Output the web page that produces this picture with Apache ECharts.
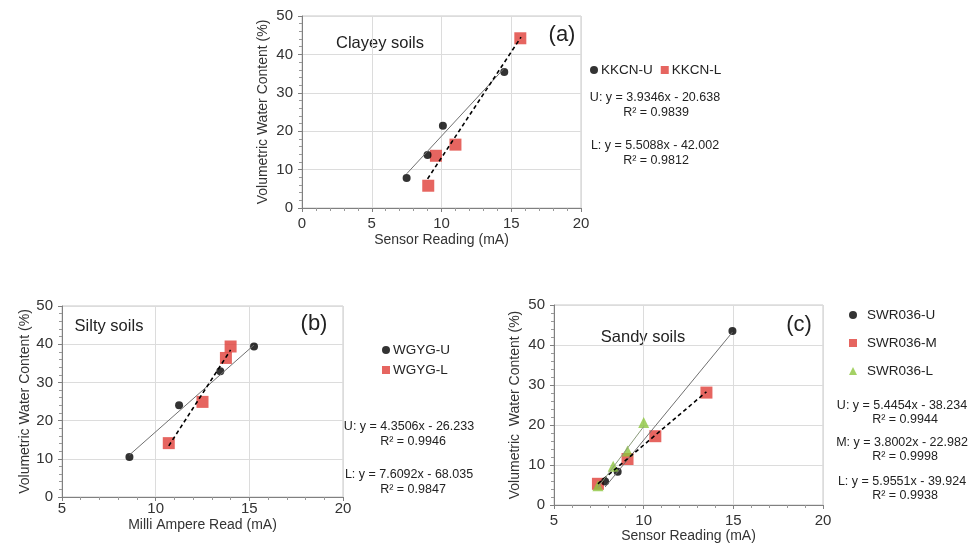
<!DOCTYPE html>
<html>
<head>
<meta charset="utf-8">
<script src="https://cdn.jsdelivr.net/npm/echarts@6/dist/echarts.min.js"></script>
<style>
  html, body { margin: 0; padding: 0; background: #fff; }
  #chart { width: 979px; height: 544px; }
</style>
</head>
<body>
<div id="chart"></div>
<script>
// panel (a) clayey soils
const aUx = [7.5, 9.0, 10.1, 14.5];
const aUy = [7.8, 13.8, 21.4, 35.4];
const aLx = [9.05, 9.6, 11.0, 15.65];
const aLy = [5.8, 13.6, 16.5, 44.2];
const aTrendU = [[7.5, 8.9], [14.5, 36.4]];
const aTrendL = [[9.0, 7.6], [15.7, 44.5]];
const aEq = ['U: y = 3.9346x - 20.638', 'R² = 0.9839', 'L: y = 5.5088x - 42.002', 'R² = 0.9812'];

// panel (b) silty soils
const bUx = [8.6, 11.25, 13.45, 15.25];
const bUy = [10.5, 24.0, 32.9, 39.4];
const bLx = [10.7, 12.5, 13.75, 14.0];
const bLy = [14.1, 24.9, 36.4, 39.4];
const bTrendU = [[8.6, 11.0], [15.25, 39.8]];
const bTrendL = [[10.7, 13.4], [14.0, 38.5]];
const bEq = ['U: y = 4.3506x - 26.233', 'R² = 0.9946', 'L: y = 7.6092x - 68.035', 'R² = 0.9847'];

// panel (c) sandy soils
const cUx = [7.85, 8.55, 14.95];
const cUy = [5.9, 8.3, 43.5];
const cMx = [7.45, 9.1, 10.65, 13.5];
const cMy = [5.3, 11.5, 17.2, 28.1];
const cLx = [7.45, 8.3, 9.1, 10.0];
const cLy = [4.8, 9.7, 13.5, 20.6];
const cTrendU = [[7.85, 4.5], [14.95, 43.2]];
const cTrendM = [[7.45, 5.3], [13.5, 28.3]];
const cTrendL = [[7.45, 4.4], [10.0, 19.6]];
const cEq = ['U: y = 5.4454x - 38.234', 'R² = 0.9944', 'M: y = 3.8002x - 22.982', 'R² = 0.9998', 'L: y = 5.9551x - 39.924', 'R² = 0.9938'];

const FONT = "'Liberation Sans', Arial, sans-serif";
const RED = '#e03e38';
const GREEN = '#8dc63f';
const zip = (xs, ys) => xs.map((x, i) => [x, ys[i]]);

const chart = echarts.init(document.getElementById('chart'));

function xAxis(idx, min, name, nameGap, margin) {
  return {
    gridIndex: idx, type: 'value', min: min, max: 20, interval: 5,
    name: name, nameLocation: 'middle', nameGap: nameGap,
    nameTextStyle: { fontFamily: FONT, fontSize: 14, color: '#333' },
    axisLine: { lineStyle: { color: '#808080' } },
    axisTick: { show: true, length: 4, lineStyle: { color: '#808080' } },
    minorTick: { show: true, splitNumber: 5, length: 3, lineStyle: { color: '#999' } },
    splitLine: { show: true, lineStyle: { color: '#dcdcdc' } },
    axisLabel: { fontFamily: FONT, fontSize: 15, color: '#333', margin: margin }
  };
}
function yAxis(idx, nameGap, name) {
  return {
    gridIndex: idx, type: 'value', min: 0, max: 50, interval: 10,
    name: name, nameLocation: 'middle', nameGap: nameGap,
    nameTextStyle: { fontFamily: FONT, fontSize: 14, color: '#333' },
    axisLine: { show: true, lineStyle: { color: '#808080' } },
    axisTick: { show: true, length: 4, lineStyle: { color: '#808080' } },
    minorTick: { show: true, splitNumber: 5, length: 3, lineStyle: { color: '#999' } },
    splitLine: { show: true, lineStyle: { color: '#dcdcdc' } },
    axisLabel: { fontFamily: FONT, fontSize: 15, color: '#333', margin: 9 }
  };
}
function dots(name, idx, data) {
  return { name: name, type: 'scatter', xAxisIndex: idx, yAxisIndex: idx, data: data,
    symbol: 'circle', symbolSize: 8, itemStyle: { color: '#000' }, z: 3 };
}
function squares(name, idx, data) {
  return { name: name, type: 'scatter', xAxisIndex: idx, yAxisIndex: idx, data: data,
    symbol: 'rect', symbolSize: 12, itemStyle: { color: RED }, z: 2 };
}
function triangles(name, idx, data) {
  return { name: name, type: 'scatter', xAxisIndex: idx, yAxisIndex: idx, data: data,
    symbol: 'triangle', symbolSize: 11, itemStyle: { color: GREEN }, z: 4 };
}
function trend(idx, data, dashed, color) {
  return { type: 'line', xAxisIndex: idx, yAxisIndex: idx, data: data, showSymbol: false,
    symbol: 'none', silent: true, z: 5,
    lineStyle: { color: color || (dashed ? '#000' : '#707070'), width: dashed ? 1.6 : 1, type: dashed ? [4, 3] : 'solid' } };
}
function txt(x, y, s, size, align) {
  return { type: 'text', x: x, y: y, silent: true,
    style: { text: s, font: size + 'px ' + FONT, fill: '#222',
      textAlign: align || 'center', align: align || 'center',
      textVerticalAlign: 'middle', verticalAlign: 'middle' } };
}
function legend(names, icons, opt, textPad) {
  return Object.assign({
    data: names.map((n, i) => ({ name: n, icon: icons[i] })),
    itemWidth: 8, itemHeight: 8, selectedMode: false,
    textStyle: { fontFamily: FONT, fontSize: 13.5, color: '#222', padding: textPad || 0 }
  }, opt);
}

const option = {
  backgroundColor: '#fff',
  animation: false,
  grid: [
    { left: 302, top: 16, width: 279, height: 192, show: true, borderColor: '#c8c8c8', borderWidth: 1 },
    { left: 62, top: 306, width: 281, height: 191, show: true, borderColor: '#c8c8c8', borderWidth: 1 },
    { left: 554, top: 305, width: 269, height: 200, show: true, borderColor: '#c8c8c8', borderWidth: 1 }
  ],
  xAxis: [
    xAxis(0, 0, 'Sensor Reading (mA)', 25, 8),
    xAxis(1, 5, 'Milli Ampere Read (mA)', 21, 4),
    xAxis(2, 5, 'Sensor Reading (mA)', 24, 8)
  ],
  yAxis: [
    yAxis(0, 32, 'Volumetric Water Content (%)'),
    yAxis(1, 30, 'Volumetric Water Content (%)'),
    yAxis(2, 32, 'Volumetric  Water Content (%)')
  ],
  legend: [
    legend(['KKCN-U', 'KKCN-L'], ['circle', 'rect'], { left: 585, top: 58, orient: 'horizontal', itemGap: 8 }, [0, 0, 0, -2]),
    legend(['WGYG-U', 'WGYG-L'], ['circle', 'rect'], { left: 377, top: 338, orient: 'vertical', itemGap: 6 }, [0, 0, 0, -2]),
    legend(['SWR036-U', 'SWR036-M', 'SWR036-L'], ['circle', 'rect', 'triangle'],
      { left: 844, top: 303, orient: 'vertical', itemGap: 14 }, [0, 0, 0, 5])
  ],
  graphic: [
    txt(380, 43, 'Clayey soils', 16.5),
    txt(562, 35, '(a)', 22),
    txt(655, 98, aEq[0], 12.5), txt(656, 113, aEq[1], 12.5),
    txt(655, 146, aEq[2], 12.5), txt(656, 161, aEq[3], 12.5),

    txt(109, 326, 'Silty soils', 16.5),
    txt(314, 324, '(b)', 22),
    txt(409, 427, bEq[0], 12.5), txt(413, 442, bEq[1], 12.5),
    txt(409, 475, bEq[2], 12.5), txt(413, 490, bEq[3], 12.5),

    txt(643, 337, 'Sandy soils', 16.5),
    txt(799, 325, '(c)', 22),
    txt(902, 406, cEq[0], 12.5), txt(905, 420, cEq[1], 12.5),
    txt(902, 443, cEq[2], 12.5), txt(905, 457, cEq[3], 12.5),
    txt(902, 482, cEq[4], 12.5), txt(905, 496, cEq[5], 12.5)
  ],
  series: [
    dots('KKCN-U', 0, zip(aUx, aUy)),
    squares('KKCN-L', 0, zip(aLx, aLy)),
    trend(0, aTrendU, false),
    trend(0, aTrendL, true),

    dots('WGYG-U', 1, zip(bUx, bUy)),
    squares('WGYG-L', 1, zip(bLx, bLy)),
    trend(1, bTrendU, false),
    trend(1, bTrendL, true),

    squares('SWR036-M', 2, zip(cMx, cMy)),
    dots('SWR036-U', 2, zip(cUx, cUy)),
    triangles('SWR036-L', 2, zip(cLx, cLy)),
    trend(2, cTrendU, false),
    trend(2, cTrendM, true),
    trend(2, cTrendL, false, '#8a9a7a')
  ]
};
chart.setOption(option);
</script>
</body>
</html>
